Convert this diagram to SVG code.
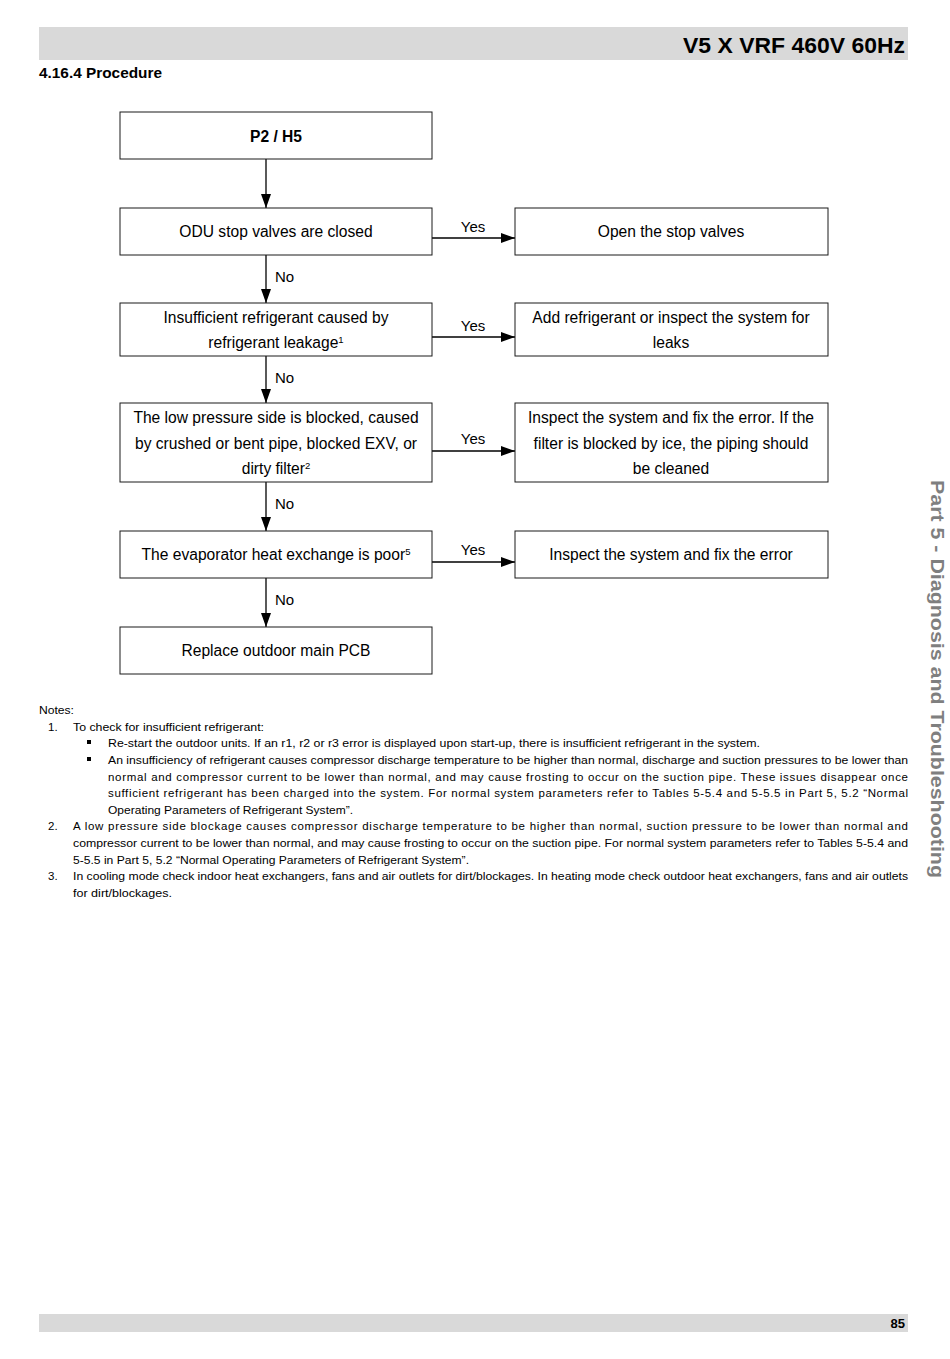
<svg xmlns="http://www.w3.org/2000/svg" width="950" height="1359" viewBox="0 0 950 1359">
<style>
.bar{fill:#d9d9d9}
.box{fill:#fff;stroke:#1a1a1a;stroke-width:1}
.t{font-family:"Liberation Sans",Arial,sans-serif;font-size:15.6px;fill:#000;text-anchor:middle}
.b{font-weight:bold}
.lbl{font-family:"Liberation Sans",Arial,sans-serif;font-size:15px;fill:#000}
.n{font-family:"Liberation Sans",Arial,sans-serif;font-size:11.5px;fill:#000}
.ln{stroke:#000;stroke-width:1.3;fill:none}
</style>
<defs>
<marker id="ah" markerUnits="userSpaceOnUse" markerWidth="14" markerHeight="10" refX="14" refY="5" orient="auto">
<path d="M0,0 L14,5 L0,10 Z" fill="#000"/>
</marker>
</defs>
<rect class="bar" x="39" y="27" width="869" height="33"/>
<text x="905" y="53" font-family="'Liberation Sans',Arial,sans-serif" font-size="22" font-weight="bold" text-anchor="end" textLength="222" lengthAdjust="spacingAndGlyphs">V5 X VRF 460V 60Hz</text>
<text x="39" y="78" font-family="'Liberation Sans',Arial,sans-serif" font-size="14" font-weight="bold" textLength="123" lengthAdjust="spacingAndGlyphs">4.16.4 Procedure</text>

<g id="connectors">
<line class="ln" x1="266" y1="159" x2="266" y2="208" marker-end="url(#ah)"/>
<line class="ln" x1="266" y1="255" x2="266" y2="303" marker-end="url(#ah)"/>
<line class="ln" x1="266" y1="356" x2="266" y2="403" marker-end="url(#ah)"/>
<line class="ln" x1="266" y1="482" x2="266" y2="531" marker-end="url(#ah)"/>
<line class="ln" x1="266" y1="578" x2="266" y2="627" marker-end="url(#ah)"/>
<line class="ln" x1="432" y1="238" x2="515" y2="238" marker-end="url(#ah)"/>
<line class="ln" x1="432" y1="337" x2="515" y2="337" marker-end="url(#ah)"/>
<line class="ln" x1="432" y1="451" x2="515" y2="451" marker-end="url(#ah)"/>
<line class="ln" x1="432" y1="562" x2="515" y2="562" marker-end="url(#ah)"/>
<text class="lbl" x="275" y="282">No</text>
<text class="lbl" x="275" y="383">No</text>
<text class="lbl" x="275" y="509">No</text>
<text class="lbl" x="275" y="605">No</text>
<text class="lbl" x="473" y="232" text-anchor="middle">Yes</text>
<text class="lbl" x="473" y="331" text-anchor="middle">Yes</text>
<text class="lbl" x="473" y="444" text-anchor="middle">Yes</text>
<text class="lbl" x="473" y="555" text-anchor="middle">Yes</text>
</g>

<g id="n1"><rect class="box" x="120" y="112" width="312" height="47"/><text class="t b" x="276" y="142">P2 / H5</text></g>
<g id="n2"><rect class="box" x="120" y="208" width="312" height="47"/><text class="t" x="276" y="237">ODU stop valves are closed</text></g>
<g id="n3"><rect class="box" x="515" y="208" width="313" height="47"/><text class="t" x="671" y="237">Open the stop valves</text></g>
<g id="n4"><rect class="box" x="120" y="303" width="312" height="53"/><text class="t" x="276" y="323">Insufficient refrigerant caused by</text><text class="t" x="276" y="348">refrigerant leakage<tspan font-size="9.5" dy="-5">1</tspan></text></g>
<g id="n5"><rect class="box" x="515" y="303" width="313" height="53"/><text class="t" x="671" y="323">Add refrigerant or inspect the system for</text><text class="t" x="671" y="348">leaks</text></g>
<g id="n6"><rect class="box" x="120" y="403" width="312" height="79"/><text class="t" x="276" y="423">The low pressure side is blocked, caused</text><text class="t" x="276" y="449">by crushed or bent pipe, blocked EXV, or</text><text class="t" x="276" y="474">dirty filter<tspan font-size="9.5" dy="-5">2</tspan></text></g>
<g id="n7"><rect class="box" x="515" y="403" width="313" height="79"/><text class="t" x="671" y="423">Inspect the system and fix the error. If the</text><text class="t" x="671" y="449">filter is blocked by ice, the piping should</text><text class="t" x="671" y="474">be cleaned</text></g>
<g id="n8"><rect class="box" x="120" y="531" width="312" height="47"/><text class="t" x="276" y="560">The evaporator heat exchange is poor<tspan font-size="9.5" dy="-5">5</tspan></text></g>
<g id="n9"><rect class="box" x="515" y="531" width="313" height="47"/><text class="t" x="671" y="560">Inspect the system and fix the error</text></g>
<g id="n10"><rect class="box" x="120" y="627" width="312" height="47"/><text class="t" x="276" y="656">Replace outdoor main PCB</text></g>

<g id="notes">
<text class="n" x="39" y="714" textLength="35" lengthAdjust="spacingAndGlyphs">Notes:</text>
<text class="n" x="48" y="731">1.</text>
<text class="n" x="73" y="731" textLength="191" lengthAdjust="spacingAndGlyphs">To check for insufficient refrigerant:</text>
<rect x="87" y="740" width="4" height="4" fill="#000"/>
<text class="n" x="108" y="747" textLength="652" lengthAdjust="spacingAndGlyphs">Re-start the outdoor units. If an r1, r2 or r3 error is displayed upon start-up, there is insufficient refrigerant in the system.</text>
<rect x="87" y="757" width="4" height="4" fill="#000"/>
<text class="n" x="108" y="764" textLength="800" lengthAdjust="spacingAndGlyphs">An insufficiency of refrigerant causes compressor discharge temperature to be higher than normal, discharge and suction pressures to be lower than</text>
<text class="n" x="108" y="781" textLength="800" lengthAdjust="spacing">normal and compressor current to be lower than normal, and may cause frosting to occur on the suction pipe. These issues disappear once</text>
<text class="n" x="108" y="797" textLength="800" lengthAdjust="spacing">sufficient refrigerant has been charged into the system. For normal system parameters refer to Tables 5-5.4 and 5-5.5 in Part 5, 5.2 “Normal</text>
<text class="n" x="108" y="814" textLength="245" lengthAdjust="spacingAndGlyphs">Operating Parameters of Refrigerant System”.</text>
<text class="n" x="48" y="830">2.</text>
<text class="n" x="73" y="830" textLength="835" lengthAdjust="spacing">A low pressure side blockage causes compressor discharge temperature to be higher than normal, suction pressure to be lower than normal and</text>
<text class="n" x="73" y="847" textLength="835" lengthAdjust="spacingAndGlyphs">compressor current to be lower than normal, and may cause frosting to occur on the suction pipe. For normal system parameters refer to Tables 5-5.4 and</text>
<text class="n" x="73" y="864" textLength="396" lengthAdjust="spacingAndGlyphs">5-5.5 in Part 5, 5.2 “Normal Operating Parameters of Refrigerant System”.</text>
<text class="n" x="48" y="880">3.</text>
<text class="n" x="73" y="880" textLength="835" lengthAdjust="spacingAndGlyphs">In cooling mode check indoor heat exchangers, fans and air outlets for dirt/blockages. In heating mode check outdoor heat exchangers, fans and air outlets</text>
<text class="n" x="73" y="897" textLength="99" lengthAdjust="spacingAndGlyphs">for dirt/blockages.</text>
</g>

<text transform="translate(931,480) rotate(90)" font-family="'Liberation Sans',Arial,sans-serif" font-size="19" font-weight="bold" fill="#7f7f7f" textLength="398" lengthAdjust="spacingAndGlyphs">Part 5 - Diagnosis and Troubleshooting</text>

<rect class="bar" x="39" y="1314" width="869" height="18"/>
<text x="905" y="1328" font-family="'Liberation Sans',Arial,sans-serif" font-size="13" font-weight="bold" text-anchor="end">85</text>
</svg>
